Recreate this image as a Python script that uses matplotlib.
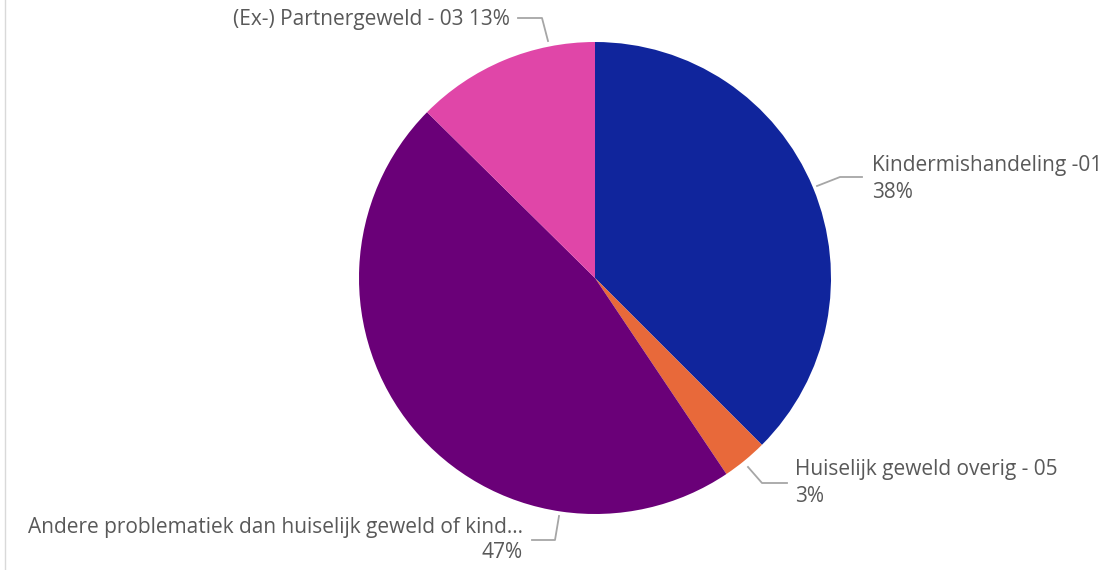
import matplotlib.pyplot as plt
from matplotlib.lines import Line2D

# slice data (clockwise from 12 o'clock)
labels = ['Kindermishandeling -01', 'Huiselijk geweld overig - 05',
          'Andere problematiek dan huiselijk geweld of kind...', '(Ex-) Partnergeweld - 03']
values = [37.5, 3.1, 46.8, 12.6]
pct_labels = ['38%', '3%', '47%', '13%']
colors = ['#10259c', '#e8693a', '#6a0078', '#e046a8']

W, H = 1107, 570
fig = plt.figure(figsize=(W / 100, H / 100), dpi=100)
ax = fig.add_axes([0, 0, 1, 1])

cx, cy, r = 595, H - 278, 236
ax.pie(values, colors=colors, startangle=90, counterclock=False,
       center=(cx, cy), radius=r, frame=True,
       wedgeprops=dict(linewidth=0))
ax.set_xlim(0, W)
ax.set_ylim(0, H)
ax.set_aspect('equal')
ax.axis('off')

txt = dict(color='#595959', fontsize=15, family='Open Sans')
lc = '#a6a6a6'

def leader(pts):
    xs = [p[0] for p in pts]
    ys = [H - p[1] for p in pts]
    ax.add_line(Line2D(xs, ys, color=lc, lw=1.3))

# Kindermishandeling
ax.text(872, H - 165, labels[0], ha='left', va='center', **txt)
ax.text(872, H - 192, pct_labels[0], ha='left', va='center', **txt)
leader([(817, 186), (840, 177), (862, 177)])

# Huiselijk geweld overig
ax.text(795, H - 470, labels[1], ha='left', va='center', **txt)
ax.text(795, H - 497, pct_labels[1], ha='left', va='center', **txt)
leader([(748, 467), (762, 483), (787, 483)])

# Andere problematiek
ax.text(523, H - 527, labels[2], ha='right', va='center', **txt)
ax.text(523, H - 553, pct_labels[2], ha='right', va='center', **txt)
leader([(532, 540), (555, 540), (559, 516)])

# Partnergeweld
ax.text(510, H - 20, labels[3] + ' ' + pct_labels[3], ha='right', va='center', **txt)
leader([(518, 18), (542, 18), (548, 41)])

# faint chart border on the left
fig.add_artist(Line2D([5 / W, 5 / W], [0, 1], color='#d9d9d9', lw=1, transform=fig.transFigure))

fig.savefig('out.png', dpi=100)
